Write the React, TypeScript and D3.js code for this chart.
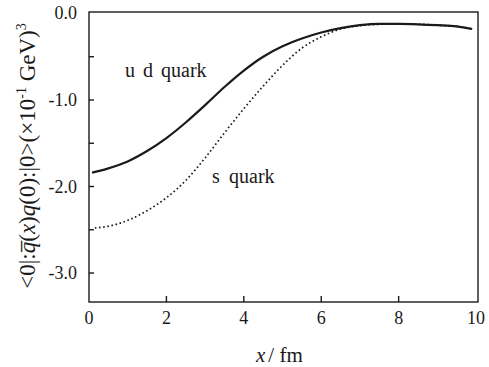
import { useEffect, useRef } from 'react';
import * as d3 from 'd3';

// u d quark (solid) curve
const udX = [0.08, 0.5, 1.0, 1.5, 2.0, 2.5, 3.0, 3.5, 4.0, 4.5, 5.0, 5.5, 6.0, 6.5, 7.0, 7.5, 8.0, 8.5, 9.0, 9.5, 9.9];
const udY = [-1.84, -1.79, -1.71, -1.59, -1.44, -1.26, -1.06, -0.85, -0.66, -0.5, -0.38, -0.29, -0.22, -0.17, -0.135, -0.12, -0.12, -0.125, -0.135, -0.15, -0.18];

// s quark (dotted) curve
const sX = [0.15, 0.6, 1.06, 1.5, 2.0, 2.5, 3.0, 3.5, 4.0, 4.5, 5.0, 5.5, 6.0, 6.5, 7.0, 7.5, 8.0, 8.5, 9.0, 9.5, 9.9];
const sY = [-2.48, -2.45, -2.38, -2.28, -2.13, -1.93, -1.67, -1.38, -1.1, -0.84, -0.6, -0.4, -0.27, -0.18, -0.14, -0.125, -0.12, -0.125, -0.135, -0.15, -0.18];

const xTicks = [0, 2, 4, 6, 8, 10];
const yTickLabels = [0, -1, -2, -3];
const yMinorTicks = [-0.5, -1, -1.5, -2, -2.5, -3];

const App = () => {
  const chartRef = useRef<SVGSVGElement>(null);

  useEffect(() => {
    if (!chartRef.current) return;
    const svg = d3.select(chartRef.current);
    svg.selectAll('*').remove();

    const left = 89, right = 478, top = 12, bottom = 302;
    const font = '"Liberation Serif", "Times New Roman", serif';
    const ink = '#1a1a1a';

    const x = d3.scaleLinear().domain([0, 10.05]).range([left, right]);
    const y = d3.scaleLinear().domain([-3.335, 0.017]).range([bottom, top]);

    // frame
    svg.append('rect')
      .attr('x', left).attr('y', top)
      .attr('width', right - left).attr('height', bottom - top)
      .attr('fill', 'none').attr('stroke', ink).attr('stroke-width', 1.4);

    // x ticks (inward) + labels
    xTicks.forEach(t => {
      if (t > 0 && t < 10) {
        svg.append('line')
          .attr('x1', x(t)).attr('x2', x(t))
          .attr('y1', bottom).attr('y2', bottom - 6)
          .attr('stroke', ink).attr('stroke-width', 1.4);
      }
      svg.append('text')
        .attr('x', x(t)).attr('y', 324)
        .attr('text-anchor', 'middle')
        .style('font-family', font).style('font-size', '18px').attr('fill', ink)
        .text(t);
    });

    // y ticks (inward) + labels
    yMinorTicks.forEach(t => {
      svg.append('line')
        .attr('x1', left).attr('x2', left + 5)
        .attr('y1', y(t)).attr('y2', y(t))
        .attr('stroke', ink).attr('stroke-width', 1.4);
    });
    yTickLabels.forEach(t => {
      svg.append('text')
        .attr('x', 77).attr('y', y(t) + 6)
        .attr('text-anchor', 'end')
        .style('font-family', font).style('font-size', '18px').attr('fill', ink)
        .text(d3.format('.1f')(t).replace('−', '-'));
    });

    const line = d3.line<[number, number]>()
      .x(d => x(d[0]))
      .y(d => y(d[1]))
      .curve(d3.curveMonotoneX);

    svg.append('path')
      .datum(sX.map((v, i) => [v, sY[i]] as [number, number]))
      .attr('d', line)
      .attr('fill', 'none').attr('stroke', ink)
      .attr('stroke-width', 1.7).attr('stroke-dasharray', '1.6 2.6');

    svg.append('path')
      .datum(udX.map((v, i) => [v, udY[i]] as [number, number]))
      .attr('d', line)
      .attr('fill', 'none').attr('stroke', ink).attr('stroke-width', 2.2);

    // curve labels
    const lab = (px: number, py: number, s: string) =>
      svg.append('text').attr('x', px).attr('y', py)
        .style('font-family', font).style('font-size', '20px').attr('fill', ink)
        .text(s);
    lab(125, 77, 'u');
    lab(143, 77, 'd');
    lab(161, 77, 'quark');
    lab(212, 183, 's');
    lab(229, 183, 'quark');

    // x axis title
    const xt = svg.append('text')
      .attr('x', 256).attr('y', 362)
      .style('font-family', font).style('font-size', '21px').attr('fill', ink);
    xt.append('tspan').style('font-style', 'italic').text('x');
    xt.append('tspan').text('/ fm').attr('dx', 3);

    // y axis title
    const yt = svg.append('text')
      .attr('transform', 'translate(35,156) rotate(-90)')
      .attr('text-anchor', 'middle')
      .style('font-family', font).style('font-size', '23px').attr('fill', ink);
    yt.append('tspan').text('<0|:');
    yt.append('tspan').style('font-style', 'italic').text('q\u0305');
    yt.append('tspan').text('(');
    yt.append('tspan').style('font-style', 'italic').text('x');
    yt.append('tspan').text(')');
    yt.append('tspan').style('font-style', 'italic').text('q');
    yt.append('tspan').text('(0):|0>(×10');
    yt.append('tspan').attr('dy', -9).style('font-size', '14px').text('-1');
    yt.append('tspan').attr('dy', 9).text(' GeV)');
    yt.append('tspan').attr('dy', -9).style('font-size', '14px').text('3');
  }, []);

  return (
    <svg
      ref={chartRef}
      width={489}
      height={367}
      style={{ position: 'absolute', left: 0, top: 0, background: '#fff' }}
    />
  );
};

export default App;
